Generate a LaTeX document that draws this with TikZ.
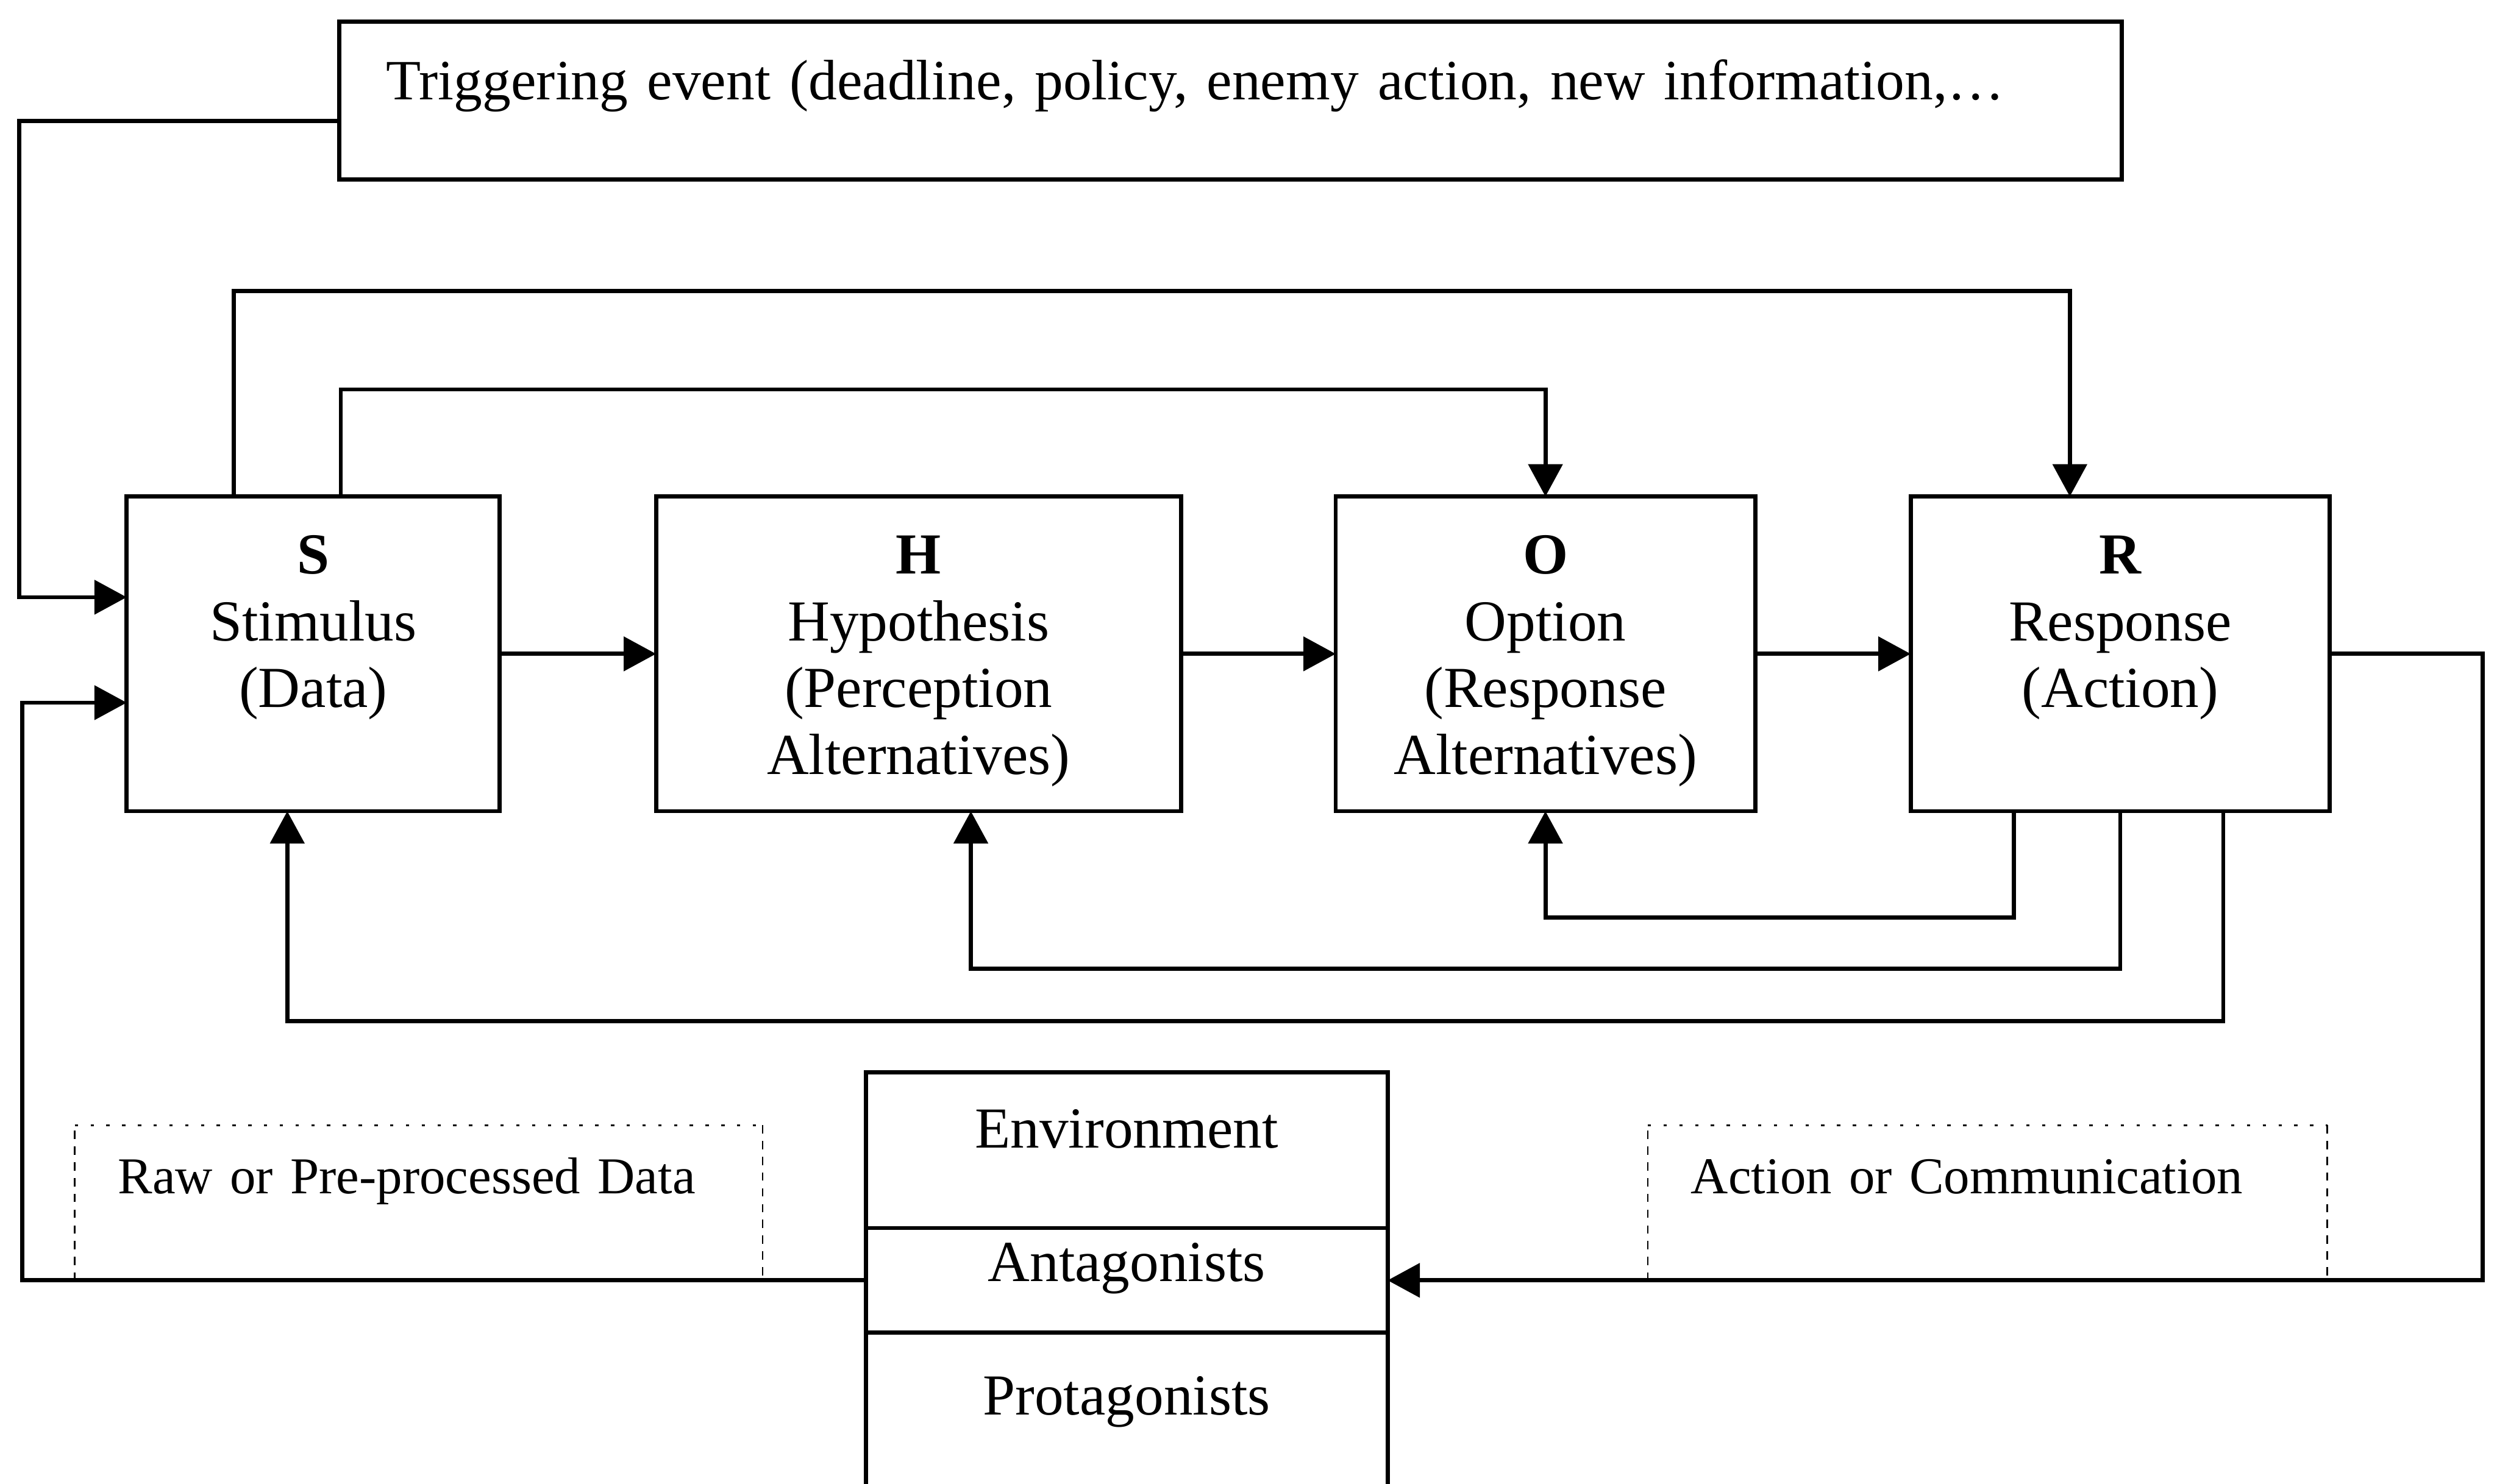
\documentclass[tikz,border=0pt]{standalone}
\usepackage{fontspec}
\setmainfont{Liberation Serif}
\usetikzlibrary{arrows.meta}

\begin{document}
\begin{tikzpicture}[
    every node/.style={font=\fontsize{21}{24.2}\selectfont},
    blk/.style={draw, line width=1.5pt, anchor=north, align=center, inner xsep=0pt,
        inner ysep=0pt, outer sep=0pt, text height=27.9pt, text depth=85.9pt},
    trig/.style={draw, line width=1.5pt, anchor=north west, text width=21.45cm, align=left,
        inner xsep=0.6cm, inner ysep=0pt, outer sep=0pt, text height=28.2pt, text depth=28.8pt,
        font=\fontsize{20.6}{24}\selectfont},
    layer/.style={draw, line width=1.5pt, anchor=north, minimum width=6.63cm, inner ysep=0pt,
        outer sep=0pt},
    note/.style={anchor=north west, align=left, inner xsep=0.55cm, inner ysep=0pt, outer sep=0pt,
        text height=24.7pt, text depth=31.6pt, font=\fontsize{18.7}{22}\selectfont},
    arr/.style={-{Triangle[length=0.41cm, width=0.43cm]}, line width=1.5pt}
]
\useasboundingbox (0,0) rectangle (31.725,-18.855);
\clip (0,0) rectangle (31.725,-18.855);

% Triggering event
\node[trig] (trig) at (4.31,-0.275) {Triggering event (deadline, policy, enemy action, new information,…};

% S-H-O-R boxes
\node[blk, text width=4.74cm] (S) at (3.98,-6.31) {\textbf{S}\\Stimulus\\(Data)};
\node[blk, text width=6.67cm] (H) at (11.67,-6.31) {\textbf{H}\\Hypothesis\\(Perception\\Alternatives)};
\node[blk, text width=5.33cm] (O) at (19.635,-6.31) {\textbf{O}\\Option\\(Response\\Alternatives)};
\node[blk, text width=5.325cm] (R) at (26.9375,-6.31) {\textbf{R}\\Response\\(Action)};

% Environment stack
\node[layer, text height=27.4pt, text depth=29.0pt] (env) at (14.315,-13.625) {Environment};
\node[layer, text height=19.3pt, text depth=18.5pt] (anta) at (env.south) {Antagonists};
\node[layer, text height=29.7pt, text depth=55.7pt] (prota) at (anta.south) {Protagonists};

% Flow labels
\node[note, text width=7.64cm] (raw) at (0.95,-14.3) {Raw or Pre-processed Data};
\node[note, text width=7.535cm] (act) at (20.935,-14.3) {Action or Communication};
\foreach \n in {raw,act} {
    \draw[line width=0.6pt, dash pattern=on 3pt off 2.7pt] (\n.south west) -- (\n.north west);
    \draw[line width=0.6pt, dash pattern=on 1.2pt off 4.5pt] (\n.north west) -- (\n.north east);
    \draw[line width=0.6pt, dash pattern=on 3pt off 2.7pt] (\n.north east) -- (\n.south east);
}

% Main chain
\draw[arr] (S) -- (H);
\draw[arr] (H) -- (O);
\draw[arr] (O) -- (R);

% Inputs to S
\coordinate (tl) at (0.245,-7.59);
\coordinate (bl) at (0.28,-8.93);
\draw[arr] ([yshift=-0.26cm]trig.west) -| (tl) -- (tl -| S.west);
\draw[arr] (anta.west) -| (bl) -- (bl -| S.west);

% Feed-forward loops over the top
\coordinate (sout) at ([xshift=-1.01cm]S.north);
\coordinate (sin) at ([xshift=0.35cm]S.north);
\coordinate (rin) at ([xshift=-0.64cm]R.north);
\draw[arr] (sout) -- ++(0,2.61) -| (rin);
\draw[arr] (sin) -- ++(0,1.36) -| (O.north);

% Feedback loops underneath
\coordinate (ra) at ([xshift=-1.35cm]R.south);
\coordinate (rc) at ([xshift=1.31cm]R.south);
\coordinate (hin) at ([xshift=0.665cm]H.south);
\coordinate (sb) at ([xshift=-0.33cm]S.south);
\draw[arr] (ra) -- ++(0,-1.35) -| (O.south);
\draw[arr] (R.south) -- ++(0,-2.0) -| (hin);
\draw[arr] (rc) -- ++(0,-2.67) -| (sb);

% Output to environment
\coordinate (rr) at (31.54,0);
\draw[arr] (R.east) -- (R.east -| rr) |- (anta.east);
\end{tikzpicture}
\end{document}
